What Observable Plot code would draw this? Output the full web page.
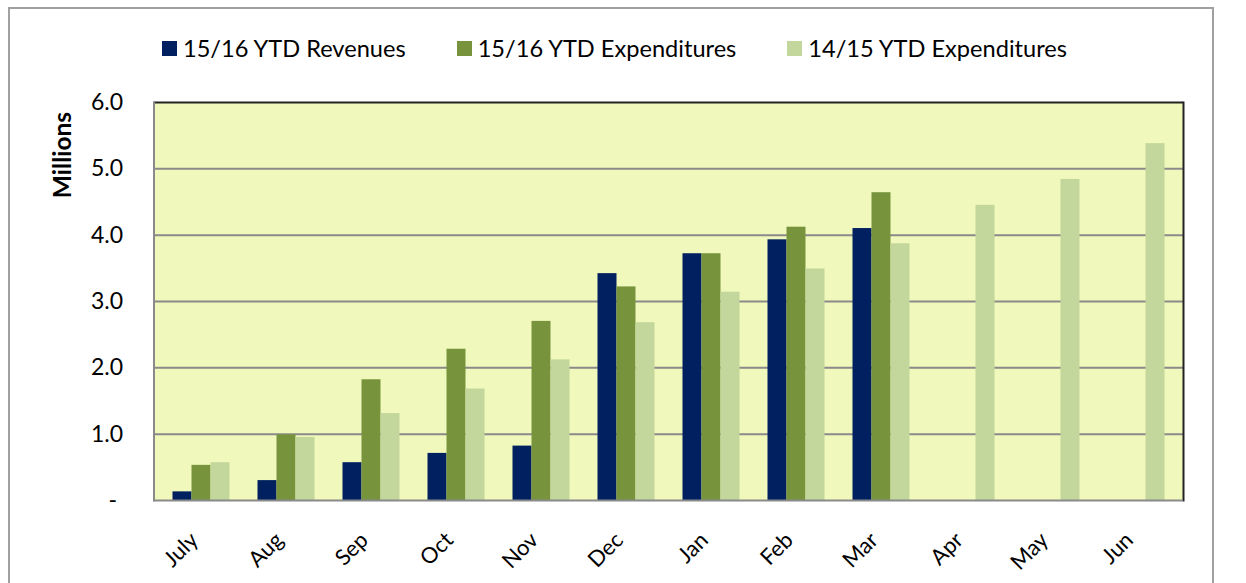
<!DOCTYPE html>
<html>
<head>
<meta charset="utf-8">
<script src="https://cdn.jsdelivr.net/npm/d3@7"></script>
<script src="https://cdn.jsdelivr.net/npm/@observablehq/plot@0.6"></script>
<style>
  body { margin: 0; background: #fff; font-family: Lato, "Open Sans", sans-serif; }
  #wrap { position: relative; width: 1246px; height: 583px; overflow: hidden; }
  #border { position: absolute; left: 8px; top: 7px; width: 1202px; height: 620px; border: 2px solid #a0a0a0; z-index: 5; pointer-events: none; }
  #legend { position: absolute; left: 162px; top: 34px; display: flex; gap: 51px; align-items: center; font-size: 23.6px; color: #000; }
  .item { display: flex; align-items: center; gap: 6px; }
  .sw { width: 15px; height: 15px; display: inline-block; }
  #ylab { position: absolute; left: 61px; top: 155px; transform: translate(-50%, -50%) rotate(-90deg); font-weight: bold; font-size: 24.5px; white-space: nowrap; }
  .layer { position: absolute; left: 0; top: 90px; }
</style>
</head>
<body>
<div id="wrap">
  <div id="border"></div>
  <div id="legend"></div>
  <div id="ylab">Millions</div>
  <div id="back" class="layer"></div>
  <div id="front" class="layer"></div>
</div>
<script>
const months = ["July","Aug","Sep","Oct","Nov","Dec","Jan","Feb","Mar","Apr","May","Jun"];
const seriesNames = ["15/16 YTD Revenues","15/16 YTD Expenditures","14/15 YTD Expenditures"];
const seriesColors = ["#002060","#77933C","#C3D69B"];
const revenues1516 = [0.13,0.30,0.57,0.71,0.82,3.42,3.72,3.93,4.10,null,null,null];
const expenditures1516 = [0.53,0.99,1.82,2.28,2.70,3.22,3.72,4.12,4.64,null,null,null];
const expenditures1415 = [0.57,0.95,1.31,1.68,2.12,2.68,3.14,3.49,3.87,4.45,4.84,5.38];
const yTicks = [0,1,2,3,4,5,6];

const seriesValues = [revenues1516, expenditures1516, expenditures1415];
const rows = months.flatMap((m, i) => seriesNames.map((s, j) => ({month: m, series: s, value: seriesValues[j][i]})));

// legend
const legend = document.getElementById("legend");
seriesNames.forEach((s, j) => {
  const it = document.createElement("div");
  it.className = "item";
  const sw = document.createElement("span");
  sw.className = "sw";
  sw.style.background = seriesColors[j];
  const tx = document.createElement("span");
  tx.textContent = s;
  it.appendChild(sw); it.appendChild(tx);
  legend.appendChild(it);
});

const common = {
  width: 1246,
  height: 493,
  marginLeft: 153.5,
  marginRight: 63,
  marginTop: 12,
  marginBottom: 83,
  style: {background: "transparent", fontFamily: "Lato, 'Open Sans', sans-serif", fontSize: "22px", color: "#000", overflow: "visible"}
};
const bandPad = {paddingInner: 0.334, paddingOuter: 0.167};

// background layer: plot area, grid and axes
const back = Plot.plot({
  ...common,
  x: {domain: months, ...bandPad, label: null},
  y: {domain: [0, 6], label: null},
  marks: [
    Plot.frame({fill: "#f0f8bb", stroke: null}),
    Plot.ruleY(yTicks.filter(d => d > 0 && d < 6), {stroke: "#8a8a8a", strokeWidth: 2}),
    Plot.axisY(yTicks, {tickSize: 0, tickPadding: 31, fontSize: 23, label: null,
      tickFormat: d => d === 0 ? "-\u00a0" : d.toFixed(1)}),
    Plot.axisX({tickRotate: -45, tickSize: 0, tickPadding: 26, dx: -7, dy: 10, fontSize: 22, label: null})
  ]
});
document.getElementById("back").appendChild(back);

// front layer: grouped bars
const front = Plot.plot({
  ...common,
  fx: {domain: months, ...bandPad, label: null, axis: null},
  x: {domain: seriesNames, padding: 0, axis: null},
  y: {domain: [0, 6], axis: null},
  color: {domain: seriesNames, range: seriesColors},
  marks: [
    Plot.barY(rows, {fx: "month", x: "series", y: "value", fill: "series", inset: 0})
  ]
});
document.getElementById("front").appendChild(front);

// plot-area border on top
const border = Plot.plot({
  ...common,
  x: {domain: months, ...bandPad, axis: null},
  y: {domain: [0, 6], axis: null},
  marks: [
    Plot.ruleY([6], {stroke: "#222", strokeWidth: 2}),
    Plot.frame({anchor: "right", stroke: "#222", strokeWidth: 2}),
    Plot.frame({anchor: "left", stroke: "#8a8a8a", strokeWidth: 2}),
    Plot.ruleY([0], {stroke: "#8a8a8a", strokeWidth: 2})
  ]
});
const bdiv = document.createElement("div");
bdiv.className = "layer";
bdiv.appendChild(border);
document.getElementById("wrap").appendChild(bdiv);
</script>
</body>
</html>
